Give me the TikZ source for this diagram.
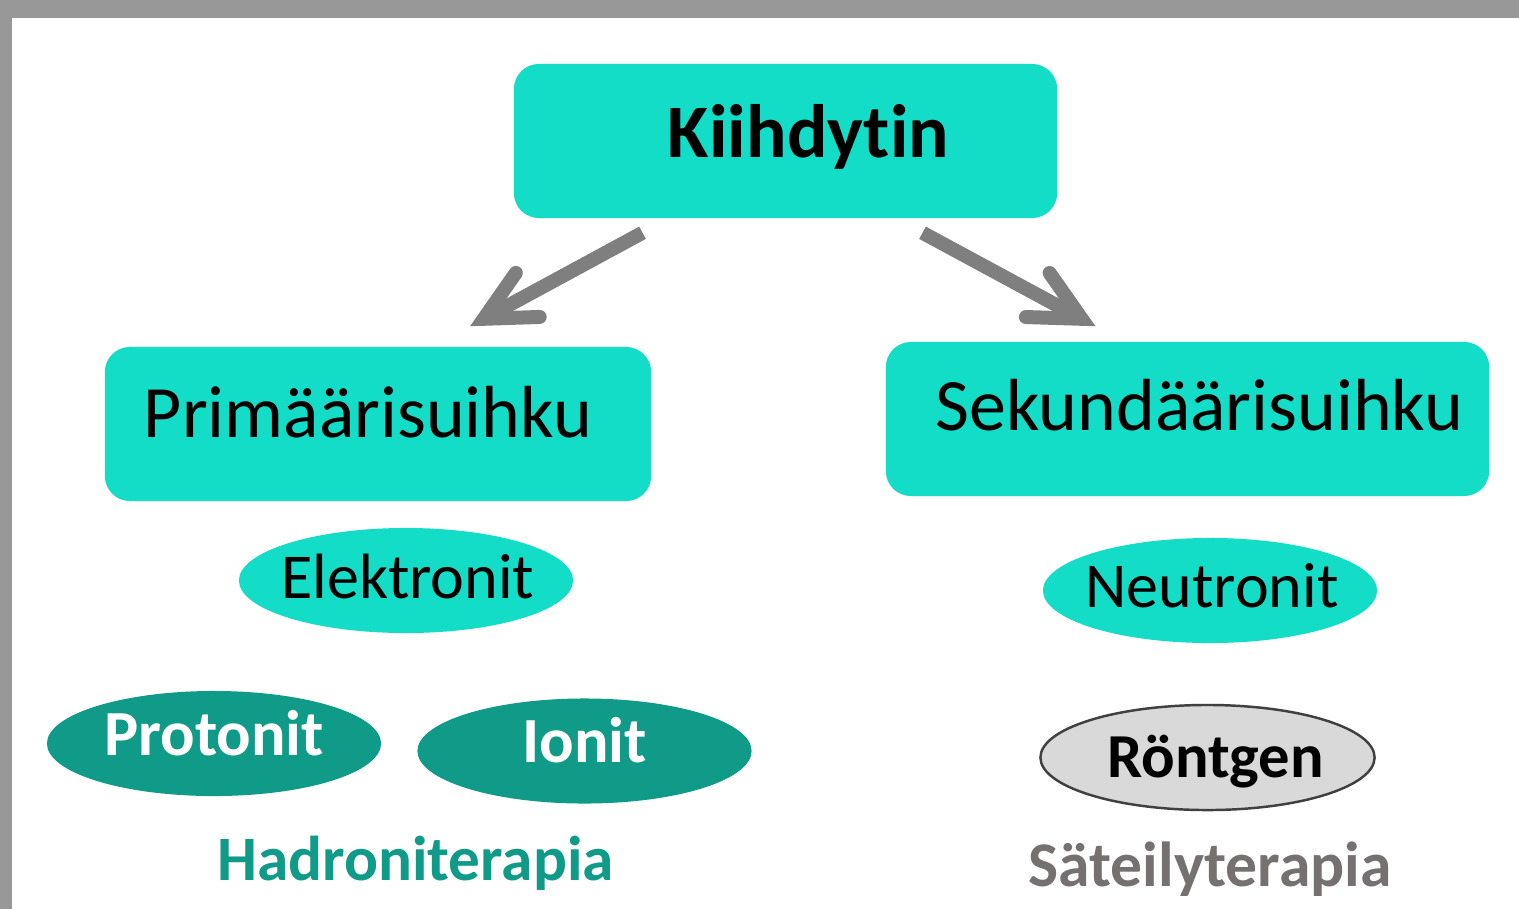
\documentclass[tikz,border=0pt]{standalone}
\usepackage{fontspec}
\setmainfont{Carlito}[Ligatures=CommonOff]
\usetikzlibrary{arrows.meta,shapes.geometric}

\definecolor{turkoosi}{HTML}{13DDC7}
\definecolor{tummaturkoosi}{HTML}{0F9B88}
\definecolor{nuolenharmaa}{HTML}{7F7F7F}
\definecolor{reunanharmaa}{HTML}{989898}
\definecolor{tekstinharmaa}{HTML}{767171}
\definecolor{vaaleaharmaa}{HTML}{D9D9D9}
\definecolor{tummaharmaa}{HTML}{404040}

\tikzset{
  laatikko/.style={rectangle, rounded corners=0.25cm, fill=turkoosi, inner sep=0pt,
    minimum height=1.54cm, text height=13.3pt, text depth=0.2cm,
    font=\fontsize{21}{25}\selectfont},
  soikio/.style={ellipse, fill=turkoosi, inner sep=0pt, inner xsep=-0.5cm,
    minimum width=3.34cm, minimum height=1.05cm, text height=11.5pt, text depth=0.05cm,
    font=\fontsize{18.2}{22}\selectfont},
  hadroni/.style={soikio, fill=tummaturkoosi, text=white, text height=11.6pt,
    text depth=0.17cm, font=\bfseries\fontsize{18.3}{22}\selectfont},
  otsikko/.style={inner sep=0pt, text height=11.4pt, text depth=0pt,
    font=\bfseries\fontsize{18}{22}\selectfont},
  nuoli/.style={draw=nuolenharmaa, line width=0.14cm,
    -{Straight Barb[length=0.5cm, width=0.5cm, line cap=round, line join=miter]}},
}

\begin{document}
\begin{tikzpicture}[x=0.01cm, y=-0.01cm]
  \useasboundingbox (0, 0) rectangle (1519, 909);
  \fill[reunanharmaa] (0, 0) rectangle (1519, 18);
  \fill[reunanharmaa] (0, 0) rectangle (12, 909);

  % laatikot
  \node[laatikko, minimum width=5.43cm, text depth=0.14cm,
    font=\bfseries\fontsize{21.5}{26}\selectfont, text height=13.6pt]
    (kiih) at (785.5, 141) {\hspace*{0.46cm}Kiihdytin};
  \node[laatikko, minimum width=5.46cm] (prim) at (378, 424) {Primäärisuihku\hspace*{0.2cm}};
  \node[laatikko, minimum width=6.03cm, text depth=0.23cm] (sek) at (1187.5, 419) {\hspace*{0.24cm}Sekundäärisuihku};

  % hiukkaset
  \node[soikio] (elek) at (406, 580.5) {\hspace*{0.04cm}Elektronit};
  \node[soikio, text depth=0.07cm] (neut) at (1210, 590.5) {\hspace*{0.04cm}Neutronit};
  \node[hadroni] (prot) at (214, 743.5) {Protonit};
  \node[hadroni] (ioni) at (584.5, 751) {Ionit};
  \node[soikio, fill=vaaleaharmaa, draw=tummaharmaa, line width=0.7pt, text depth=-0.03cm,
    font=\bfseries\fontsize{17.8}{21}\selectfont, text height=11.2pt]
    (ront) at (1207.5, 757.5) {\hspace*{0.16cm}Röntgen};

  % terapiat
  \node[otsikko, text=tummaturkoosi] (hadr) at (415.5, 860) {Hadroniterapia};
  \node[otsikko, text=tekstinharmaa, font=\bfseries\fontsize{18.1}{22}\selectfont]
    (sate) at (1210, 866.5) {Säteilyterapia};

  % nuolet
  \draw[nuoli] ([shift={(-143, 14)}]kiih.south) -- ([shift={(92, -20)}]prim.north);
  \draw[nuoli] ([shift={(137, 14)}]kiih.south) -- ([shift={(-92, -15)}]sek.north);
\end{tikzpicture}
\end{document}
